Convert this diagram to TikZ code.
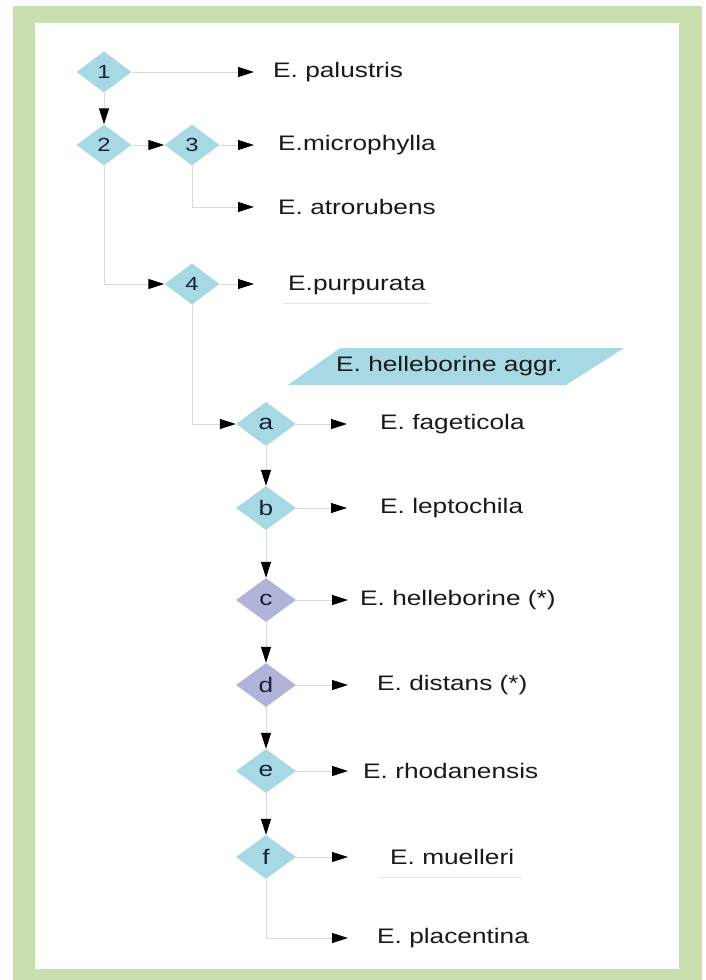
\documentclass[tikz,border=0pt]{standalone}
\usepackage{fontspec}
\setmainfont{Liberation Sans}
\newfontfamily\wide[FakeStretch=1.25]{Liberation Sans}
\usetikzlibrary{shapes.geometric,arrows.meta}
\definecolor{frame}{HTML}{C9DFB0}
\definecolor{dblue}{HTML}{A6D9E3}
\definecolor{dlav}{HTML}{B2B3D9}
\definecolor{lgray}{HTML}{D8D8D8}
\definecolor{lbl}{HTML}{17223A}
\begin{document}
\begin{tikzpicture}[x=1pt,y=-1pt,
 dia/.style={diamond, fill=dblue, minimum width=55pt, minimum height=41pt, inner sep=0pt, font=\wide\fontsize{19}{19}\selectfont, text=lbl},
 diab/.style={dia, minimum width=60pt, minimum height=44pt, font=\wide\fontsize{21}{21}\selectfont},
 lav/.style={diab, fill=dlav},
 sp/.style={anchor=west, inner sep=0pt, font=\wide\fontsize{21}{21}\selectfont, text=black!90},
 con/.style={draw=lgray, line width=1pt},
 arr/.style={con, -{Triangle[length=16pt,width=10pt,color=black]}},
 faint/.style={draw=black!10, line width=0.8pt},
]
\useasboundingbox (0,0) rectangle (705,980);
\fill[frame] (13,6) rectangle (702,980);
\fill[white] (35,23) rectangle (679,969);

% aggregate banner
\fill[dblue] (340,348) -- (624,348) -- (566,385) -- (288,385) -- cycle;
\node[sp] (agg) at (336,366) {E. helleborine aggr.};

% diamonds
\node[dia] (d1) at (104,72) {1};
\node[dia] (d2) at (104,145) {2};
\node[dia] (d3) at (192,145) {3};
\node[dia] (d4) at (192,284) {4};
\node[diab] (da) at (266,424) {a};
\node[diab] (db) at (266,508) {b};
\node[lav] (dc) at (266,600) {c};
\node[lav] (dd) at (266,685) {d};
\node[diab] (de) at (266,771) {e};
\node[diab] (df) at (266,857) {f};

% species
\node[sp] (s1) at (273,72) {E. palustris};
\node[sp] (s2) at (278,145) {E.microphylla};
\node[sp] (s3) at (278,207) {E. atrorubens};
\node[sp] (s4) at (288,285) {E.purpurata};
\node[sp] (sa) at (380,424) {E. fageticola};
\node[sp] (sb) at (380,508) {E. leptochila};
\node[sp] (sc) at (360,600) {E. helleborine (*)};
\node[sp] (sd) at (377,685) {E. distans (*)};
\node[sp] (se) at (363,771) {E. rhodanensis};
\node[sp] (sf) at (390,857) {E. muelleri};
\node[sp] (sg) at (377,938) {E. placentina};

\draw[faint] (283,303) -- (430,303);
\draw[faint] (378,877) -- (522,877);

% arrow tips
\coordinate (t1) at (254,72);
\coordinate (t2) at (254,145);
\coordinate (t3) at (254,207);
\coordinate (t4) at (254,284);
\coordinate (ta) at (347,424);
\coordinate (tb) at (347,508);
\coordinate (tc) at (348,600);
\coordinate (td) at (348,685);
\coordinate (te) at (348,771);
\coordinate (tf) at (348,857);
\coordinate (tg) at (348,938);

% connectors
\draw[arr] (d1.east) -- (t1);
\draw[arr] (d1.south) -- (d2.north);
\draw[arr] (d2.east) -- (d3.west);
\draw[arr] (d3.east) -- (t2);
\draw[arr] (d3.south) |- (t3);
\draw[arr] (d2.south) |- (d4.west);
\draw[arr] (d4.east) -- (t4);
\draw[arr] (d4.south) |- (da.west);
\draw[arr] (da.east) -- (ta);
\draw[arr] (da.south) -- (db.north);
\draw[arr] (db.east) -- (tb);
\draw[arr] (db.south) -- (dc.north);
\draw[arr] (dc.east) -- (tc);
\draw[arr] (dc.south) -- (dd.north);
\draw[arr] (dd.east) -- (td);
\draw[arr] (dd.south) -- (de.north);
\draw[arr] (de.east) -- (te);
\draw[arr] (de.south) -- (df.north);
\draw[arr] (df.east) -- (tf);
\draw[arr] (df.south) |- (tg);
\end{tikzpicture}
\end{document}
